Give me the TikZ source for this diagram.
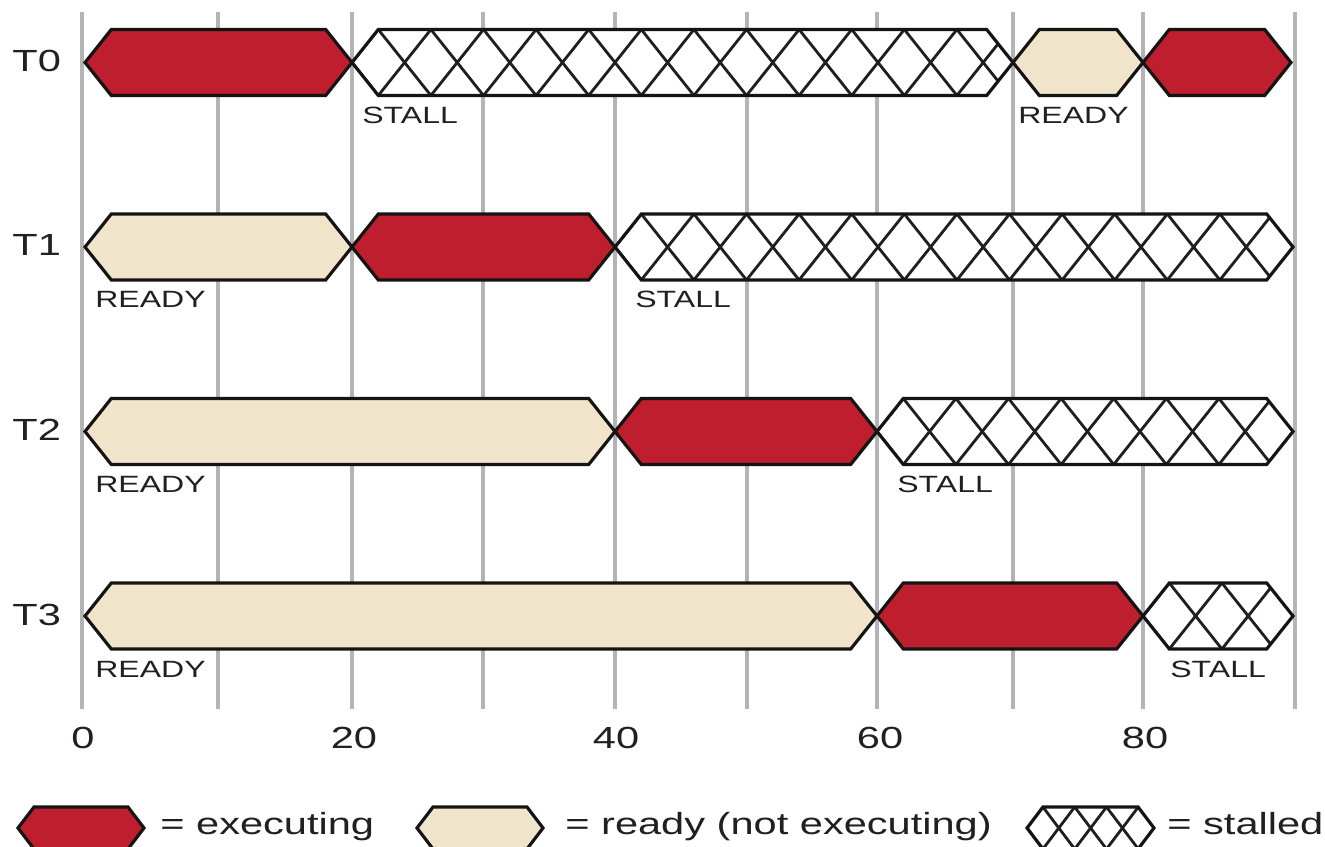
\documentclass[tikz,border=0pt]{standalone}
\usepackage{fontspec}
\setmainfont{Liberation Sans}
\usepackage{graphicx}
\definecolor{execred}{HTML}{BE1E2D}
\definecolor{readybg}{HTML}{F0E4CA}
\definecolor{gridgray}{HTML}{B4B4B4}
\definecolor{txt}{HTML}{231F20}
\newcommand{\sx}[1]{\scalebox{1.36}[1]{#1}}
% hexagon path: #1 start x, #2 end x, #3 centre y, #4 half height, #5 tip depth
\newcommand{\hexp}[5]{(#1,#3) -- (#1+#5,#3-#4) -- (#2-#5,#3-#4) -- (#2,#3) -- (#2-#5,#3+#4) -- (#1+#5,#3+#4) -- cycle}
\newcommand{\fillseg}[6]{\draw[outline, fill=#6] \hexp{#1}{#2}{#3}{#4}{#5};}
\newcommand{\stallseg}[5]{%
  \begin{scope}
    \clip \hexp{#1}{#2}{#3}{#4}{#5};
    \fill[white] \hexp{#1}{#2}{#3}{#4}{#5};
    \foreach \k in {0,...,15} {
      \draw[hatch] (#1-#5+2*#5*\k,#3+#4) -- ++(2*#5,-2*#4);
      \draw[hatch] (#1-#5+2*#5*\k,#3-#4) -- ++(2*#5,2*#4);
    }
  \end{scope}
  \draw[outline] \hexp{#1}{#2}{#3}{#4}{#5};}
\begin{document}
\begin{tikzpicture}[x=0.02cm,y=-0.02cm,
  outline/.style={draw=black!92, line width=1.8pt, line join=miter},
  hatch/.style={draw=black!88, line width=1.6pt},
  gridline/.style={draw=gridgray, line width=2pt},
  rowlabel/.style={anchor=base west, inner sep=0pt, text=txt, font=\fontsize{17.4}{20}\selectfont},
  barlabel/.style={anchor=base west, inner sep=0pt, text=txt, font=\fontsize{13.4}{16}\selectfont},
  ticklabel/.style={anchor=base, inner sep=0pt, text=txt, font=\fontsize{17.4}{20}\selectfont},
  legendlabel/.style={anchor=base west, inner sep=0pt, text=txt, font=\fontsize{17.4}{20}\selectfont}]
\useasboundingbox (0,0) rectangle (1325,847);
\fill[white] (0,0) rectangle (1325,847);

% grid lines
\foreach \gx in {82,218,352,483,615,747,877,1013,1143,1295}
  \draw[gridline] (\gx,12) -- (\gx,709);

% row T0 (centre 62.5)
\fillseg{85}{352}{62.5}{33}{26.3}{execred}
\stallseg{352}{1013}{62.5}{33}{26.3}
\fillseg{1013}{1143}{62.5}{33}{26.3}{readybg}
\fillseg{1143}{1291}{62.5}{33}{26.3}{execred}
% row T1 (centre 247)
\fillseg{85}{352}{247}{33}{26.3}{readybg}
\fillseg{352}{615}{247}{33}{26.3}{execred}
\stallseg{615}{1293}{247}{33}{26.3}
% row T2 (centre 431.5)
\fillseg{85}{615}{431.5}{33}{26.3}{readybg}
\fillseg{615}{877}{431.5}{33}{26.3}{execred}
\stallseg{877}{1293}{431.5}{33}{26.3}
% row T3 (centre 616)
\fillseg{85}{877}{616}{33}{26.3}{readybg}
\fillseg{877}{1143}{616}{33}{26.3}{execred}
\stallseg{1143}{1293}{616}{33}{26.3}

% row labels
\node[rowlabel] (t0) at (12,71.5) {\sx{T0}};
\node[rowlabel] (t1) at (12,256) {\sx{T1}};
\node[rowlabel] (t2) at (12,440.5) {\sx{T2}};
\node[rowlabel] (t3) at (12,625) {\sx{T3}};

% bar labels
\node[barlabel] (l0a) at (362,123.5) {\sx{STALL}};
\node[barlabel] (l0b) at (1018,123.5) {\sx{READY}};
\node[barlabel] (l1a) at (95,308) {\sx{READY}};
\node[barlabel] (l1b) at (635,308) {\sx{STALL}};
\node[barlabel] (l2a) at (95,492.5) {\sx{READY}};
\node[barlabel] (l2b) at (897,492.5) {\sx{STALL}};
\node[barlabel] (l3a) at (95,677) {\sx{READY}};
\node[barlabel] (l3b) at (1170,677) {\sx{STALL}};

% tick labels
\node[ticklabel] (x0) at (83,748) {\sx{0}};
\node[ticklabel] (x20) at (354,748) {\sx{20}};
\node[ticklabel] (x40) at (616,748) {\sx{40}};
\node[ticklabel] (x60) at (880,748) {\sx{60}};
\node[ticklabel] (x80) at (1145,748) {\sx{80}};

% legend
\fillseg{18}{144}{828}{21}{16}{execred}
\node[legendlabel] (lg1) at (160,834) {\sx{= executing}};
\fillseg{417}{543}{828}{21}{16}{readybg}
\node[legendlabel] (lg2) at (565,834) {\sx{= ready (not executing)}};
\stallseg{1027}{1154}{828}{21}{15.9}
\node[legendlabel] (lg3) at (1167,834) {\sx{= stalled}};
\end{tikzpicture}
\end{document}
